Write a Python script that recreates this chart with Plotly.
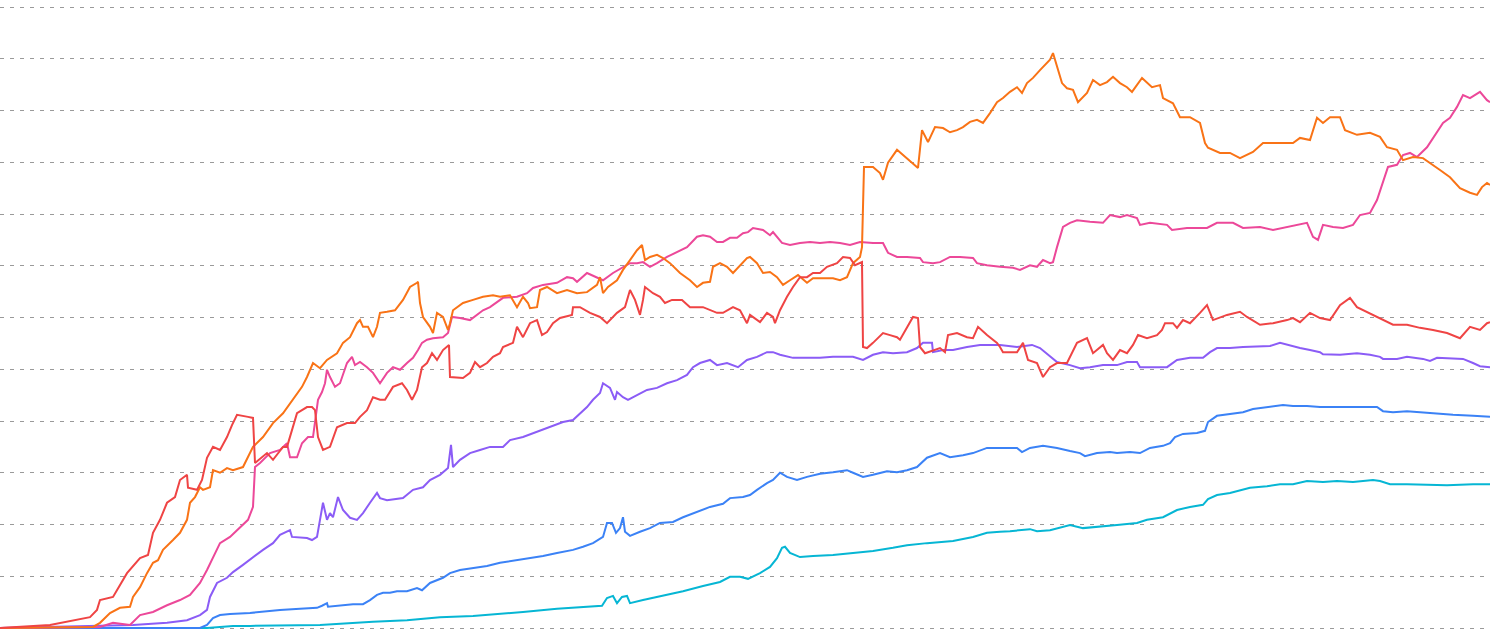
import plotly.graph_objects as go

# ---- data (x = time index, y = value in grid units) ----
red_x = [0, 50, 90, 97, 100, 113, 127, 140, 148, 153, 160, 167, 175, 180, 187, 188, 197, 202, 207, 213, 220, 227, 232, 237, 248, 253, 255,
         267, 273, 283, 287, 292, 297, 307, 312, 315, 318, 323, 330, 337, 347, 355, 360, 367, 373, 380, 385, 393, 402, 407, 412, 417, 422, 427,
         432, 437, 443, 449, 450, 463, 470, 475, 480, 487, 493, 500, 503, 513, 517, 523, 530, 537, 542, 547, 553, 560, 572, 573, 580, 590, 600,
         607, 617, 625, 630, 635, 640, 643, 645, 653, 660, 665, 672, 682, 690, 703, 710, 717, 723, 733, 740, 747, 750, 753, 760, 767, 773, 775,
         780, 787, 793, 800, 807, 813, 820, 827, 837, 843, 850, 855, 860, 862, 863, 867, 873, 883, 890, 897, 900, 907, 913, 918, 920, 925, 933,
         940, 945, 948, 957, 967, 973, 978, 987, 997, 1000, 1003, 1017, 1023, 1028, 1037, 1043, 1050, 1057, 1067, 1077, 1087, 1093, 1103, 1107,
         1113, 1120, 1127, 1133, 1138, 1147, 1157, 1162, 1165, 1173, 1177, 1183, 1190, 1200, 1207, 1213, 1227, 1240, 1247, 1260, 1273, 1287,
         1293, 1300, 1310, 1320, 1330, 1340, 1350, 1357, 1367, 1380, 1393, 1407, 1420, 1433, 1447, 1460, 1470, 1480, 1487, 1490]
red_y = [0.00, 0.06, 0.21, 0.35, 0.54, 0.60, 1.06, 1.35, 1.41, 1.84, 2.09, 2.42, 2.53, 2.86, 2.96, 2.71, 2.67, 2.86, 3.29, 3.50, 3.44, 3.69, 3.92, 4.12, 4.08, 4.06, 3.19,
         3.38, 3.25, 3.50, 3.50, 3.83, 4.15, 4.27, 4.27, 4.21, 3.69, 3.44, 3.50, 3.88, 3.96, 3.96, 4.08, 4.21, 4.46, 4.41, 4.41, 4.66, 4.73, 4.60, 4.41, 4.60, 5.04, 5.12,
         5.31, 5.18, 5.37, 5.47, 4.85, 4.83, 4.93, 5.14, 5.04, 5.12, 5.24, 5.31, 5.43, 5.51, 5.82, 5.62, 5.89, 5.95, 5.66, 5.72, 5.89, 5.99, 6.05, 6.20, 6.20, 6.09, 6.01,
         5.89, 6.09, 6.20, 6.53, 6.34, 6.05, 6.34, 6.59, 6.47, 6.40, 6.28, 6.34, 6.34, 6.20, 6.20, 6.14, 6.09, 6.09, 6.20, 6.14, 5.89, 6.05, 6.01, 5.91, 6.09, 6.01, 5.89,
         6.14, 6.40, 6.59, 6.78, 6.78, 6.86, 6.86, 6.98, 7.05, 7.17, 7.15, 7.01, 7.05, 7.07, 5.43, 5.41, 5.51, 5.70, 5.66, 5.62, 5.57, 5.82, 6.01, 5.99, 5.43, 5.31, 5.37,
         5.41, 5.33, 5.66, 5.70, 5.62, 5.60, 5.82, 5.66, 5.51, 5.43, 5.33, 5.33, 5.51, 5.18, 5.12, 4.85, 5.04, 5.12, 5.12, 5.51, 5.60, 5.31, 5.47, 5.31,
         5.18, 5.37, 5.31, 5.47, 5.66, 5.60, 5.66, 5.76, 5.89, 5.89, 5.80, 5.95, 5.89, 6.09, 6.24, 5.95, 6.05, 6.11, 6.01, 5.86, 5.89, 5.95,
         5.99, 5.91, 6.09, 5.99, 5.95, 6.24, 6.38, 6.20, 6.11, 5.99, 5.86, 5.86, 5.80, 5.76, 5.70, 5.60, 5.82, 5.76, 5.89, 5.91]

orange_x = [0, 93, 100, 110, 120, 130, 133, 140, 147, 153, 158, 163, 173, 180, 187, 190, 195, 200, 203, 210, 213, 220, 227, 233, 243, 248, 253, 263,
            273, 283, 293, 302, 307, 313, 320, 327, 337, 343, 350, 357, 360, 363, 368, 373, 377, 380, 387, 395, 403, 410, 417, 418, 420, 423, 430,
            433, 437, 443, 448, 450, 453, 463, 473, 483, 493, 500, 510, 517, 523, 528, 530, 537, 540, 547, 557, 567, 577, 587, 597, 600, 603, 608,
            617, 623, 630, 637, 642, 645, 650, 657, 663, 670, 680, 690, 697, 703, 710, 713, 720, 727, 733, 740, 747, 750, 757, 763, 770, 777, 783,
            790, 798, 807, 813, 823, 833, 840, 847, 853, 860, 862, 864, 873, 880, 883, 888, 897, 903, 910, 918, 922, 928, 935, 943, 950, 957, 963,
            970, 977, 983, 990, 997, 1003, 1010, 1017, 1022, 1027, 1033, 1040, 1050, 1053, 1057, 1062, 1067, 1073, 1078, 1087, 1093, 1100, 1107,
            1113, 1120, 1127, 1132, 1142, 1152, 1160, 1163, 1173, 1180, 1190, 1200, 1205, 1208, 1220, 1230, 1240, 1253, 1263, 1277, 1293, 1300,
            1310, 1317, 1323, 1330, 1340, 1345, 1357, 1370, 1380, 1387, 1397, 1403, 1413, 1423, 1430, 1440, 1450, 1460, 1470, 1477, 1482, 1487, 1490]
orange_y = [0.00, 0.02, 0.10, 0.29, 0.39, 0.41, 0.60, 0.79, 1.06, 1.26, 1.31, 1.51, 1.70, 1.84, 2.09, 2.42, 2.53, 2.72, 2.67, 2.72, 3.05, 3.00, 3.09, 3.05, 3.11, 3.30, 3.50, 3.69,
            3.96, 4.15, 4.41, 4.66, 4.85, 5.12, 5.02, 5.18, 5.31, 5.51, 5.62, 5.89, 5.95, 5.82, 5.82, 5.62, 5.82, 6.09, 6.11, 6.14, 6.34, 6.59, 6.67, 6.69, 6.28, 6.01, 5.82,
            5.70, 6.09, 6.01, 5.76, 5.89, 6.14, 6.28, 6.34, 6.40, 6.43, 6.40, 6.43, 6.20, 6.40, 6.28, 6.18, 6.20, 6.53, 6.59, 6.47, 6.53, 6.47, 6.49, 6.63, 6.78, 6.47, 6.59,
            6.72, 6.92, 7.11, 7.30, 7.40, 7.11, 7.17, 7.21, 7.15, 7.05, 6.86, 6.72, 6.59, 6.67, 6.69, 6.98, 7.05, 6.98, 6.86, 7.01, 7.15, 7.17, 7.05, 6.86, 6.88, 6.78, 6.63,
            6.72, 6.82, 6.67, 6.76, 6.76, 6.76, 6.72, 6.78, 7.05, 7.17, 7.36, 8.91, 8.91, 8.79, 8.66, 8.99, 9.24, 9.14, 9.04, 8.89, 9.62, 9.39, 9.68, 9.66, 9.58, 9.62, 9.68,
            9.78, 9.82, 9.76, 9.95, 10.16, 10.24, 10.36, 10.45, 10.34, 10.53, 10.63, 10.78, 10.98, 11.11, 10.84, 10.53, 10.43, 10.40, 10.16, 10.34, 10.59, 10.49, 10.55,
            10.65, 10.53, 10.45, 10.36, 10.63, 10.45, 10.49, 10.24, 10.14, 9.87, 9.87, 9.76, 9.37, 9.28, 9.18, 9.18, 9.08, 9.20, 9.37, 9.37, 9.37, 9.47,
            9.43, 9.86, 9.76, 9.87, 9.87, 9.62, 9.53, 9.57, 9.49, 9.29, 9.24, 9.04, 9.10, 9.08, 8.99, 8.85, 8.71, 8.50, 8.41, 8.37, 8.52, 8.60, 8.56]

pink_x = [0, 100, 113, 130, 140, 153, 167, 180, 190, 200, 207, 213, 220, 230, 240, 248, 253, 255, 260, 270, 280, 287, 290, 297, 302, 308, 313, 318,
          322, 325, 327, 330, 335, 340, 347, 352, 355, 360, 367, 373, 380, 387, 393, 400, 407, 413, 418, 422, 427, 433, 443, 448, 452, 460, 470, 477,
          483, 490, 500, 503, 517, 527, 533, 543, 557, 567, 573, 577, 587, 597, 603, 613, 623, 630, 637, 643, 650, 657, 667, 677, 687, 697, 703, 710,
          717, 723, 730, 737, 743, 748, 753, 763, 770, 773, 777, 782, 790, 800, 810, 820, 830, 840, 850, 860, 873, 883, 888, 897, 907, 920, 923, 933,
          940, 950, 960, 973, 977, 987, 1000, 1013, 1020, 1030, 1037, 1043, 1050, 1053, 1057, 1063, 1070, 1077, 1090, 1103, 1110, 1120, 1127, 1137,
          1140, 1150, 1167, 1172, 1187, 1207, 1217, 1233, 1243, 1260, 1273, 1287, 1307, 1313, 1318, 1323, 1333, 1343, 1353, 1360, 1370, 1377, 1383,
          1388, 1397, 1403, 1410, 1417, 1427, 1433, 1443, 1450, 1457, 1463, 1470, 1480, 1487, 1490]
pink_y = [0.00, 0.02, 0.10, 0.06, 0.25, 0.31, 0.44, 0.54, 0.64, 0.87, 1.12, 1.37, 1.64, 1.76, 1.95, 2.09, 2.34, 3.11, 3.19, 3.38, 3.44, 3.57, 3.30, 3.30, 3.57, 3.69, 3.69, 4.41,
          4.56, 4.73, 4.99, 4.85, 4.66, 4.73, 5.12, 5.24, 5.08, 5.14, 5.04, 4.93, 4.73, 4.93, 5.04, 4.99, 5.12, 5.22, 5.37, 5.51, 5.57, 5.60, 5.62, 5.70, 6.01, 5.99, 5.95, 6.05,
          6.14, 6.20, 6.34, 6.38, 6.40, 6.47, 6.57, 6.63, 6.67, 6.78, 6.76, 6.69, 6.86, 6.78, 6.72, 6.86, 6.98, 7.05, 7.05, 7.07, 6.98, 7.05, 7.17, 7.27, 7.36, 7.56, 7.59, 7.56,
          7.46, 7.46, 7.54, 7.54, 7.63, 7.65, 7.73, 7.69, 7.59, 7.65, 7.56, 7.44, 7.40, 7.44, 7.46, 7.44, 7.46, 7.44, 7.40, 7.46, 7.44, 7.44, 7.25, 7.17, 7.17, 7.15, 7.07, 7.05,
          7.07, 7.17, 7.17, 7.15, 7.05, 7.01, 6.98, 6.96, 6.92, 7.01, 6.98, 7.11, 7.05, 7.07, 7.36, 7.75, 7.83, 7.88, 7.85, 7.83, 7.98, 7.94, 7.98, 7.92,
          7.79, 7.83, 7.79, 7.69, 7.73, 7.73, 7.83, 7.83, 7.73, 7.75, 7.69, 7.75, 7.83, 7.56, 7.50, 7.79, 7.75, 7.73, 7.79, 7.98, 8.02, 8.27, 8.60,
          8.91, 8.95, 9.14, 9.18, 9.10, 9.29, 9.47, 9.76, 9.86, 10.07, 10.30, 10.24, 10.36, 10.20, 10.16]

purple_x = [0, 133, 167, 187, 200, 207, 210, 217, 227, 233, 243, 253, 263, 273, 280, 290, 292, 307, 312, 317, 320, 323, 327, 330, 333, 338, 343,
            350, 357, 363, 370, 377, 380, 387, 403, 413, 423, 430, 440, 448, 451, 453, 460, 470, 480, 490, 503, 510, 523, 537, 550, 563, 573, 580,
            587, 593, 600, 603, 610, 615, 617, 623, 628, 637, 647, 657, 667, 677, 687, 693, 700, 710, 717, 727, 738, 747, 757, 767, 773, 780, 793,
            807, 820, 833, 847, 853, 863, 873, 883, 893, 907, 917, 923, 932, 933, 943, 953, 967, 980, 1000, 1017, 1032, 1040, 1050, 1057, 1070,
            1080, 1090, 1103, 1117, 1127, 1137, 1140, 1157, 1167, 1177, 1190, 1203, 1210, 1217, 1230, 1243, 1260, 1270, 1280, 1287, 1300, 1310,
            1320, 1323, 1340, 1357, 1370, 1380, 1383, 1397, 1407, 1423, 1430, 1437, 1453, 1463, 1473, 1480, 1490]
purple_y = [0.00, 0.06, 0.10, 0.15, 0.25, 0.35, 0.60, 0.87, 0.97, 1.08, 1.22, 1.37, 1.51, 1.64, 1.80, 1.89, 1.76, 1.74, 1.70, 1.76, 2.09, 2.42, 2.09, 2.22, 2.14, 2.53, 2.28,
            2.13, 2.09, 2.22, 2.42, 2.61, 2.51, 2.47, 2.51, 2.67, 2.72, 2.86, 2.96, 3.09, 3.54, 3.11, 3.25, 3.38, 3.44, 3.50, 3.50, 3.63, 3.69, 3.79, 3.88, 3.98, 4.02, 4.15,
            4.27, 4.41, 4.54, 4.73, 4.64, 4.41, 4.56, 4.46, 4.41, 4.50, 4.60, 4.64, 4.73, 4.79, 4.89, 5.04, 5.12, 5.18, 5.08, 5.12, 5.04, 5.18, 5.24, 5.33, 5.33, 5.28, 5.22,
            5.22, 5.22, 5.24, 5.24, 5.24, 5.18, 5.28, 5.33, 5.31, 5.33, 5.41, 5.51, 5.51, 5.33, 5.37, 5.37, 5.43, 5.47, 5.47, 5.43, 5.47, 5.41, 5.24, 5.14, 5.08,
            5.02, 5.04, 5.08, 5.08, 5.14, 5.14, 5.04, 5.04, 5.04, 5.18, 5.22, 5.22, 5.33, 5.41, 5.41, 5.43, 5.45, 5.45, 5.51, 5.47, 5.41, 5.37,
            5.33, 5.29, 5.28, 5.31, 5.28, 5.24, 5.20, 5.20, 5.24, 5.20, 5.16, 5.22, 5.20, 5.20, 5.12, 5.06, 5.04]

blue_x = [0, 200, 207, 213, 220, 230, 250, 260, 280, 300, 317, 322, 327, 328, 340, 353, 363, 370, 377, 383, 390, 397, 407, 417, 422, 430, 443, 450,
          460, 473, 487, 500, 517, 530, 543, 557, 573, 583, 593, 603, 607, 612, 616, 620, 623, 625, 630, 640, 650, 660, 673, 683, 697, 710, 723, 730,
          743, 750, 757, 767, 773, 780, 787, 797, 807, 820, 833, 847, 853, 863, 873, 887, 897, 907, 917, 927, 940, 950, 963, 973, 987, 1003, 1017,
          1022, 1030, 1043, 1057, 1070, 1080, 1085, 1097, 1110, 1117, 1130, 1140, 1150, 1163, 1170, 1175, 1183, 1197, 1205, 1208, 1217, 1230, 1243,
          1253, 1270, 1283, 1293, 1307, 1320, 1333, 1353, 1377, 1383, 1393, 1407, 1420, 1433, 1453, 1473, 1490]
blue_y = [0.00, 0.00, 0.06, 0.19, 0.25, 0.27, 0.29, 0.31, 0.35, 0.37, 0.39, 0.43, 0.48, 0.41, 0.43, 0.46, 0.46, 0.54, 0.64, 0.68, 0.68, 0.71, 0.71, 0.77, 0.73, 0.87, 0.97, 1.06,
          1.12, 1.16, 1.20, 1.26, 1.31, 1.35, 1.39, 1.45, 1.51, 1.57, 1.64, 1.76, 2.03, 2.03, 1.84, 1.93, 2.14, 1.86, 1.78, 1.86, 1.93, 2.03, 2.05, 2.14, 2.24, 2.34, 2.40, 2.51,
          2.53, 2.57, 2.67, 2.80, 2.86, 3.00, 2.92, 2.86, 2.92, 2.98, 3.01, 3.05, 3.00, 2.92, 2.96, 3.03, 3.01, 3.05, 3.11, 3.29, 3.38, 3.30, 3.34, 3.38, 3.48, 3.48, 3.48,
          3.40, 3.48, 3.52, 3.48, 3.42, 3.38, 3.32, 3.38, 3.40, 3.38, 3.40, 3.38, 3.48, 3.52, 3.57, 3.69, 3.75, 3.77, 3.81, 3.98, 4.10, 4.14, 4.17,
          4.23, 4.27, 4.31, 4.29, 4.29, 4.27, 4.27, 4.27, 4.27, 4.19, 4.17, 4.19, 4.17, 4.14, 4.12, 4.10, 4.08]

cyan_x = [0, 207, 233, 250, 320, 350, 373, 407, 440, 473, 500, 523, 557, 583, 602, 607, 613, 617, 622, 627, 630, 643, 663, 683, 703, 720, 730, 740,
          748, 760, 770, 777, 782, 785, 790, 800, 813, 833, 853, 873, 893, 907, 927, 953, 973, 987, 1000, 1010, 1030, 1037, 1050, 1070, 1083, 1097,
          1117, 1137, 1147, 1163, 1177, 1190, 1203, 1208, 1217, 1230, 1243, 1250, 1267, 1280, 1293, 1307, 1323, 1337, 1353, 1373, 1380, 1390, 1407,
          1447, 1473, 1490]
cyan_y = [0.00, 0.00, 0.04, 0.04, 0.06, 0.10, 0.12, 0.15, 0.21, 0.23, 0.27, 0.31, 0.37, 0.41, 0.43, 0.58, 0.62, 0.48, 0.60, 0.62, 0.48, 0.54, 0.62, 0.71, 0.81, 0.89, 0.99, 0.99,
          0.95, 1.06, 1.18, 1.35, 1.55, 1.57, 1.45, 1.37, 1.39, 1.41, 1.45, 1.49, 1.55, 1.60, 1.64, 1.68, 1.76, 1.84, 1.86, 1.87, 1.91, 1.87, 1.89, 1.99, 1.93, 1.95,
          1.99, 2.03, 2.09, 2.14, 2.28, 2.34, 2.38, 2.49, 2.57, 2.61, 2.67, 2.71, 2.74, 2.78, 2.78, 2.84, 2.82, 2.84, 2.82, 2.86, 2.84, 2.78, 2.78,
          2.76, 2.78, 2.78]

series = [
    ("cyan", cyan_x, cyan_y, "#06b6d4"),
    ("blue", blue_x, blue_y, "#3b82f6"),
    ("purple", purple_x, purple_y, "#8b5cf6"),
    ("pink", pink_x, pink_y, "#ec4899"),
    ("orange", orange_x, orange_y, "#f97316"),
    ("red", red_x, red_y, "#ef4444"),
]

fig = go.Figure()
for name, xs, ys, color in series:
    fig.add_trace(go.Scatter(x=xs, y=ys, mode="lines", name=name,
                             line=dict(color=color, width=2), hoverinfo="skip"))

fig.update_layout(
    width=1490, height=630,
    margin=dict(l=0, r=0, t=0, b=0),
    paper_bgcolor="white", plot_bgcolor="white",
    showlegend=False,
    xaxis=dict(range=[0, 1490], showgrid=False, zeroline=False, showticklabels=False,
               showline=False, ticks=""),
    yaxis=dict(range=[-2 / 51.75, 12 + 7 / 51.75], dtick=1, tick0=0, showgrid=True,
               gridcolor="#9a9a9a", gridwidth=1, griddash="4px,6px", zeroline=False,
               showticklabels=False, showline=False, ticks=""),
)

fig.write_html(
    "out.html",
    config={"displayModeBar": False},
    post_script="document.body.style.margin='0';document.body.style.overflow='hidden';",
)
